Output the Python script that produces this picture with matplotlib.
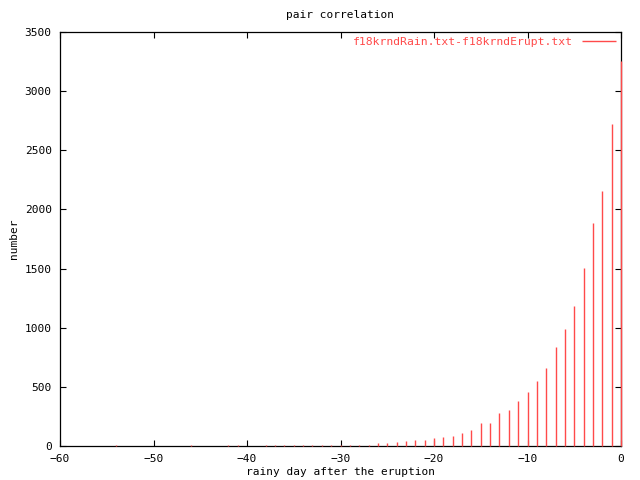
import matplotlib
matplotlib.use('Agg')
import matplotlib.pyplot as plt
import numpy as np

plt.rcParams['font.family'] = 'DejaVu Sans Mono'
plt.rcParams['font.size'] = 8

days = [-54, -46, -42, -41, -38, -37, -36, -35, -34, -33, -32, -31, -30,
        -29, -28, -27, -26, -25, -24, -23, -22, -21, -20, -19, -18, -17,
        -16, -15, -14, -13, -12, -11, -10, -9, -8, -7, -6, -5, -4, -3,
        -2, -1, 0]
counts = [5, 5, 5, 5, 5, 5, 5, 6, 6, 8, 8, 8, 9,
          10, 10, 11, 23, 23, 31, 39, 54, 54, 65, 73, 87, 113,
          138, 197, 197, 276, 307, 383, 460, 552, 660, 840, 985, 1180, 1505, 1888,
          2158, 2722, 3255]

xticks = [-60, -50, -40, -30, -20, -10, 0]
yticks = [0, 500, 1000, 1500, 2000, 2500, 3000, 3500]
red = '#ff4a4a'

fig = plt.figure(figsize=(6.4, 4.8), dpi=100)
ax = fig.add_axes([60 / 640, 1 - 446 / 480, 561 / 640, 414 / 480])

ax.vlines(days, 0, counts, color=red, linewidth=1.0, snap=True,
          clip_on=False, zorder=5,
          label='f18krndRain.txt-f18krndErupt.txt')

ax.set_xlim(-60, 0)
ax.set_ylim(0, 3500)
ax.set_xticks(xticks)
ax.set_yticks(yticks)
ax.tick_params(direction='in', length=4, width=0.8, top=True, right=True,
               labelsize=8, pad=6)
for s in ax.spines.values():
    s.set_linewidth(0.9)

ax.set_title('pair correlation', fontsize=8, pad=10)
ax.set_xlabel('rainy day after the eruption', fontsize=8, labelpad=2)
ax.set_ylabel('number', fontsize=8, labelpad=4)

leg = ax.legend(loc='upper right', frameon=False, fontsize=8.2,
                handlelength=3.0, markerfirst=False, borderaxespad=0.2,
                handletextpad=0.8, borderpad=0.2)
for t in leg.get_texts():
    t.set_color(red)

plt.savefig('out.png', dpi=100)
